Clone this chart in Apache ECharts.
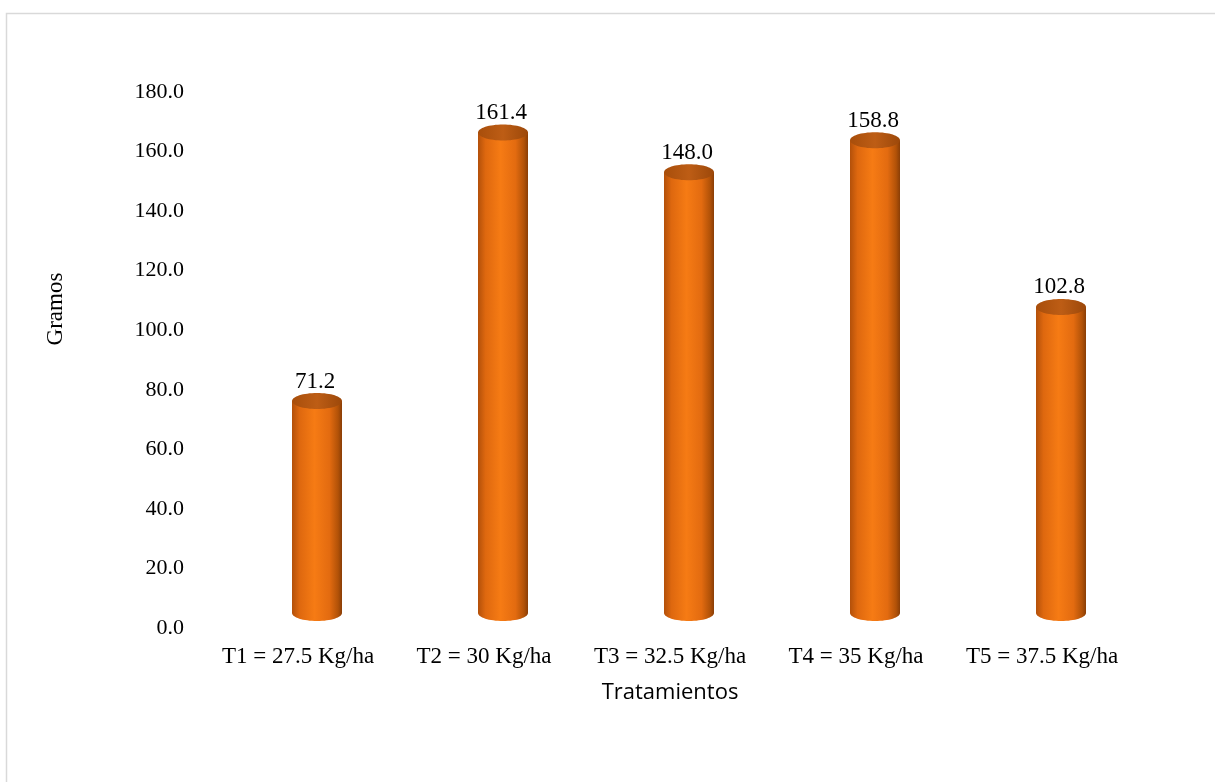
<!DOCTYPE html>
<html>
<head>
<meta charset="utf-8">
<script src="https://cdn.jsdelivr.net/npm/echarts@6/dist/echarts.min.js"></script>
<style>
  html, body { margin: 0; padding: 0; background: #fff; }
  #chart { width: 1215px; height: 782px; }
</style>
</head>
<body>
<div id="chart"></div>
<script>
// Treatments (nitrogen dose) and mean weight in grams
const categories = ['T1 = 27.5 Kg/ha', 'T2 = 30 Kg/ha', 'T3 = 32.5 Kg/ha', 'T4 = 35 Kg/ha', 'T5 = 37.5 Kg/ha'];
const gramos = [71.2, 161.4, 148.0, 158.8, 102.8];
const yTicks = { min: 0, max: 180, interval: 20 };

const serif = '"Liberation Serif", "Times New Roman", serif';

const bodyFill = {
  type: 'linear', x: 0, y: 0, x2: 1, y2: 0,
  colorStops: [
    { offset: 0, color: '#b3500a' },
    { offset: 0.15, color: '#de680f' },
    { offset: 0.45, color: '#f67b14' },
    { offset: 0.75, color: '#e36b10' },
    { offset: 0.92, color: '#b25208' },
    { offset: 1, color: '#8a3e06' }
  ]
};
const topFill = {
  type: 'linear', x: 0, y: 0, x2: 1, y2: 0,
  colorStops: [
    { offset: 0, color: '#a84e0b' },
    { offset: 0.5, color: '#bd5d15' },
    { offset: 1, color: '#9c480a' }
  ]
};

// Cylinder drawn with a depth offset (up and to the right of the category slot)
function renderCylinder(params, api) {
  const top = api.coord([api.value(0), api.value(1)]);
  const base = api.coord([api.value(0), 0]);
  const dx = 19, dy = -15, rx = 25, ry = 8;
  const cx = top[0] + dx;
  const topY = top[1] + dy;
  const botY = base[1] + dy;
  return {
    type: 'group',
    children: [
      { type: 'rect', shape: { x: cx - rx, y: topY, width: rx * 2, height: botY - topY }, style: { fill: bodyFill } },
      { type: 'ellipse', shape: { cx: cx, cy: botY, rx: rx, ry: ry }, style: { fill: bodyFill } },
      { type: 'ellipse', shape: { cx: cx, cy: topY, rx: rx, ry: ry }, style: { fill: topFill } },
      {
        type: 'text',
        x: cx - 2, y: topY - ry,
        style: {
          text: api.value(1).toFixed(1),
          fill: '#000',
          font: '23px ' + serif,
          textAlign: 'center',
          textVerticalAlign: 'bottom'
        }
      }
    ]
  };
}

const chart = echarts.init(document.getElementById('chart'), null, { renderer: 'canvas' });
chart.setOption({
  backgroundColor: '#fff',
  animation: false,
  grid: { left: 205, right: 80, top: 92, bottom: 154 },
  graphic: [
    {
      type: 'rect',
      shape: { x: 6.5, y: 13.5, width: 1400, height: 1000 },
      style: { fill: 'none', stroke: '#d9d9d9', lineWidth: 1.5 },
      silent: true
    },
    {
      type: 'text',
      x: 56, y: 309,
      rotation: Math.PI / 2,
      style: {
        text: 'Gramos',
        fill: '#000',
        font: '23px ' + serif,
        textAlign: 'center',
        textVerticalAlign: 'middle'
      }
    }
  ],
  xAxis: {
    type: 'category',
    data: categories,
    axisLine: { show: false },
    axisTick: { show: false },
    axisLabel: { color: '#000', fontFamily: serif, fontSize: 23, margin: 17, interval: 0, hideOverlap: false },
    name: 'Tratamientos',
    nameLocation: 'middle',
    nameGap: 54,
    nameTextStyle: { color: '#000', fontFamily: '"Open Sans", "Liberation Sans", sans-serif', fontSize: 22 }
  },
  yAxis: {
    type: 'value',
    min: yTicks.min,
    max: yTicks.max,
    interval: yTicks.interval,
    axisLine: { show: false },
    axisTick: { show: false },
    splitLine: { show: false },
    axisLabel: {
      color: '#000', fontFamily: serif, fontSize: 22, margin: 21,
      formatter: v => v.toFixed(1)
    }
  },
  series: [{
    type: 'custom',
    renderItem: renderCylinder,
    encode: { x: 0, y: 1 },
    data: categories.map((c, i) => [i, gramos[i]])
  }]
});
</script>
</body>
</html>
